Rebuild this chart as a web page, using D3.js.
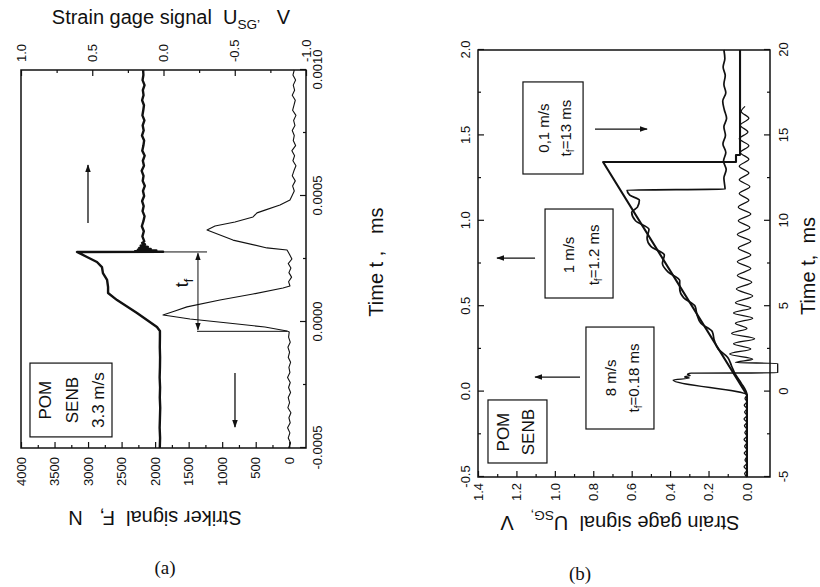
<!DOCTYPE html>
<html><head><meta charset="utf-8">
<script src="https://cdn.jsdelivr.net/npm/d3@7"></script>
<style>
body{margin:0;background:#fff}
svg{display:block;background:#fff}
text{font-family:"Liberation Sans",Arial,sans-serif;fill:#111;white-space:pre}
</style></head><body>
<svg id="fig" width="820" height="587"></svg>
<script>
// ================= DATA : panel (a) =================
const aTimeTicks = [-0.0005, 0, 0.0005, 0.001];
const aTimeTickLabels = ["-0.0005", "0.0000", "0.0005", "0.0010"];
const aTimeMinor = [-0.00025, 0.00025, 0.00075];
const aForceTicks = [0, 500, 1000, 1500, 2000, 2500, 3000, 3500, 4000];
const aForceTickLabels = ["0", "500", "1000", "1500", "2000", "2500", "3000", "3500", "4000"];
const aForceMinor = [250, 750, 1250, 1750, 2250, 2750, 3250, 3750];
const aGageTicks = [-1, -0.5, 0, 0.5, 1];
const aGageTickLabels = ["-1.0", "-0.5", "0.0", "0.5", "1.0"];
const aGageMinor = [-0.75, -0.25, 0.25, 0.75];

// striker signal F (N) – thin curve
const aStrikerTime = [-0.0005,-0.00048,-0.00046,-0.00044,-0.00042,-0.0004,-0.00038,-0.00036,-0.00034,-0.00032,-0.0003,-0.00028,-0.00026,-0.00024,-0.00022,-0.0002,-0.00018,-0.00016,-0.00014,-0.00012,-0.0001,-0.00008,-0.00006,-0.00004,
  -0.000036,-0.00002,-0.000004,0.000012,0.000024,0.000028,0.000044,0.00006,0.000087,0.000111,0.000135,0.000143,
  0.00016,0.000178,0.000196,0.000214,0.000232,0.00025,0.000268,0.00028,
  0.000286,0.000294,0.000325,0.000365,0.000381,0.000397,0.000417,0.000433,0.000444,0.000464,0.000484,
  0.0005,0.00052,0.00054,0.00056,0.00058,0.0006,0.00062,0.00064,0.00066,0.00068,0.0007,0.00072,0.00074,0.00076,0.00078,0.0008,0.00082,0.00084,0.00086,0.00088,0.0009,0.00092,0.00094,0.00096,0.00098,0.001];
const aStrikerForce = [10,-20,15,-10,25,-15,5,-25,20,-5,15,-20,10,-15,25,-10,5,-20,15,-5,20,-15,10,0,
  33,362,913,1480,1778,1883,1704,1525,1033,540,93,-11,
  10,-35,5,-25,15,-40,-5,20,
  33,332,839,1226,1107,809,540,481,362,138,-11,
  -40,-75,-50,-90,-45,-70,-100,-55,-80,-40,-95,-60,-75,-45,-85,-65,-100,-50,-70,-90,-45,-80,-60,-95,-55,-75];

// strain gage signal U_SG (V) – thick curve
const aGageTime = [-0.0005,-0.00046,-0.00042,-0.00038,-0.00034,-0.0003,-0.00026,-0.00022,-0.00018,-0.00014,-0.0001,-0.00006,
  -0.000036,-0.00002,0.000036,0.000087,0.000115,0.000139,0.000167,0.000194,0.000218,0.000238,0.000258,0.000278,
  0.000279,0.000281,0.000284,0.000287,0.00029,0.000294,0.000298,0.000303,0.000308,0.000314,
  0.00032,0.00034,0.00036,0.00038,0.0004,0.00042,0.00044,0.00046,0.00048,0.0005,0.00052,0.00054,0.00056,0.00058,0.0006,0.00062,0.00064,0.00066,0.00068,0.0007,0.00072,0.00074,0.00076,0.00078,0.0008,0.00082,0.00084,0.00086,0.00088,0.0009,0.00092,0.00094,0.00096,0.00098,0.001];
const aGageVolt = [0.026,0.024,0.027,0.025,0.023,0.026,0.024,0.027,0.025,0.024,0.026,0.025,
  0.025,0.046,0.186,0.326,0.389,0.389,0.396,0.425,0.432,0.467,0.537,0.607,
  0.003,0.20,0.05,0.18,0.09,0.17,0.11,0.16,0.13,0.15,
  0.135,0.148,0.138,0.152,0.141,0.133,0.147,0.139,0.150,0.136,0.144,0.131,0.146,0.140,0.153,0.137,0.145,0.132,0.149,0.141,0.136,0.151,0.139,0.146,0.134,0.148,0.142,0.137,0.150,0.140,0.145,0.133,0.147,0.141,0.143];

// ================= DATA : panel (b) =================
const bTimeTicks = [-5, 0, 5, 10, 15, 20];
const bTimeTickLabels = ["-5", "0", "5", "10", "15", "20"];
const bTimeMinor = [-2.5, 2.5, 7.5, 12.5, 17.5];
const bTopTicks = [-0.5, 0, 0.5, 1, 1.5, 2];
const bTopTickLabels = ["-0.5", "0.0", "0.5", "1.0", "1.5", "2.0"];
const bTopMinor = [-0.25, 0.25, 0.75, 1.25, 1.75];
const bGageTicks = [0, 0.2, 0.4, 0.6, 0.8, 1.0, 1.2, 1.4];
const bGageTickLabels = ["0.0", "0.2", "0.4", "0.6", "0.8", "1.0", "1.2", "1.4"];
const bGageMinor = [0.1, 0.3, 0.5, 0.7, 0.9, 1.1, 1.3];

// 0.1 m/s  (bottom time axis, ms)
const b01Time = [-5, -0.2, 13.44, 13.44, 13.85, 13.86, 20];
const b01Volt = [0, 0, 0.749, 0.057, 0.057, 0.036, 0.036];
// 1 m/s  (top time axis, ms)
const b1Time = [-0.5,-0.3,-0.1,-0.02,0.05,0.10,0.15,0.20,0.25,0.30,0.35,0.40,0.45,0.50,0.55,0.60,0.65,0.70,0.75,0.80,0.85,0.90,0.95,1.00,1.05,1.08,1.12,1.15,1.18,
  1.185,1.25,1.30,1.35,1.40,1.45,1.50,1.55,1.60,1.65,1.70,1.75,1.80,1.85,1.90,1.95,2.0];
const b1Volt = [0,0,0,0,0.03,0.06,0.08,0.10,0.15,0.17,0.18,0.24,0.26,0.27,0.33,0.35,0.35,0.41,0.44,0.43,0.50,0.52,0.51,0.58,0.60,0.57,0.56,0.61,0.624,
  0.114,0.12,0.108,0.122,0.11,0.125,0.112,0.12,0.106,0.118,0.126,0.11,0.12,0.113,0.124,0.115,0.12];
// 8 m/s  (top time axis, ms)
const b8Time = [-0.5,-0.48,-0.46,-0.44,-0.42,-0.4,-0.38,-0.36,-0.34,-0.32,-0.3,-0.28,-0.26,-0.24,-0.22,-0.2,-0.18,-0.16,-0.14,-0.12,-0.1,-0.08,-0.06,-0.04,
  -0.02,0.068,0.079,0.086,0.094,0.102,0.108,0.110,0.165,0.17,
  0.19,0.22,0.25,0.28,0.31,0.34,0.37,0.40,0.43,0.46,0.49,0.52,0.56,0.60,0.64,0.68,0.72,0.76,0.80,0.84,0.88,0.92,0.96,1.00,1.04,1.08,1.12,1.16,1.20,1.24,1.28,1.32,1.36,1.40,1.44,1.48,1.52,1.56,1.60,1.64,1.67];
const b8Volt = [0,0.012,0,0.015,0,0.01,0,0.014,0,0.012,0,0.015,0,0.011,0,0.013,0,0.015,0,0.012,0,0.014,0,0.01,
  0,0.385,0.30,0.325,0.295,0.31,0.29,-0.16,-0.16,0.06,
  -0.03,0.09,-0.02,0.07,-0.04,0.08,0.0,0.06,-0.03,0.07,-0.02,0.06,-0.03,0.055,-0.025,0.05,-0.02,0.05,-0.02,0.045,-0.02,0.05,-0.015,0.045,-0.02,0.045,-0.01,0.04,-0.015,0.04,-0.01,0.04,-0.01,0.035,-0.01,0.04,-0.005,0.035,-0.01,0.03,0.01];

// ================= LAYOUT =================
const ink = "#111";
const svg = d3.select("#fig");
const defs = svg.append("defs");
defs.append("marker").attr("id","ah").attr("viewBox","0 0 10 10")
  .attr("refX",9).attr("refY",5).attr("markerWidth",8).attr("markerHeight",8)
  .attr("markerUnits","userSpaceOnUse").attr("orient","auto-start-reverse")
  .append("path").attr("d","M0,1.5 L10,5 L0,8.5 Z").attr("fill",ink);

function styleAxis(g, fs){
  g.attr("font-size", null).attr("font-family", null);
  g.select(".domain").remove();
  g.selectAll("line").attr("stroke", ink).attr("stroke-width", 1.2);
  g.selectAll("text").style("font-size", fs + "px").attr("fill", ink);
}
function addText(parent, x, y, parts, fs, rot){
  const t = parent.append("text").attr("x", x).attr("y", y)
    .attr("text-anchor","middle").attr("dominant-baseline","central")
    .attr("xml:space","preserve")
    .style("font-size", fs + "px");
  if (rot) t.attr("transform", `rotate(${rot},${x},${y})`);
  parts.forEach(p => {
    const s = t.append("tspan").text(p.t);
    if (p.sub) s.attr("baseline-shift","sub").style("font-size", (fs*0.68) + "px");
  });
  return t;
}
const TF = 13;

// ---------- panel (a) ----------
const A = {left:21, top:70, right:306, bottom:448};
const aW = A.bottom - A.top, aH = A.right - A.left;
const gA = svg.append("g").attr("transform", `translate(${A.left},${A.bottom}) rotate(-90)`);
const axT = d3.scaleLinear().domain([-0.0005, 0.001]).range([0, aW]);
const ayF = d3.scaleLinear().domain([-250, 4000]).range([aH, 0]);
const ayU = d3.scaleLinear().domain([-1, 1]).range([aH, 0]);

gA.append("g").attr("transform",`translate(0,${aH})`)
  .call(d3.axisBottom(axT).tickValues(aTimeTicks).tickFormat((d,i)=>aTimeTickLabels[i]).tickSizeInner(-6).tickSizeOuter(0).tickPadding(7))
  .call(g=>styleAxis(g,TF));
gA.append("g").attr("transform",`translate(0,${aH})`)
  .call(d3.axisBottom(axT).tickValues(aTimeMinor).tickFormat("").tickSizeInner(-3).tickSizeOuter(0))
  .call(g=>styleAxis(g,TF));
gA.append("g")
  .call(d3.axisLeft(ayF).tickValues(aForceTicks).tickFormat((d,i)=>aForceTickLabels[i]).tickSizeInner(-6).tickSizeOuter(0).tickPadding(9))
  .call(g=>styleAxis(g,TF));
gA.append("g")
  .call(d3.axisLeft(ayF).tickValues(aForceMinor).tickFormat("").tickSizeInner(-3).tickSizeOuter(0))
  .call(g=>styleAxis(g,TF));
gA.append("g").attr("transform",`translate(${aW},0)`)
  .call(d3.axisRight(ayU).tickValues(aGageTicks).tickFormat((d,i)=>aGageTickLabels[i]).tickSizeInner(-6).tickSizeOuter(0).tickPadding(8))
  .call(g=>styleAxis(g,TF));
gA.append("g").attr("transform",`translate(${aW},0)`)
  .call(d3.axisRight(ayU).tickValues(aGageMinor).tickFormat("").tickSizeInner(-3).tickSizeOuter(0))
  .call(g=>styleAxis(g,TF));
gA.append("rect").attr("width",aW).attr("height",aH).attr("fill","none").attr("stroke",ink).attr("stroke-width",1.5);

const lineAF = d3.line().x((d,i)=>axT(aStrikerTime[i])).y((d,i)=>ayF(aStrikerForce[i]));
gA.append("path").attr("d", lineAF(aStrikerTime)).attr("fill","none").attr("stroke",ink).attr("stroke-width",1.1).attr("stroke-linejoin","round");
const lineAU = d3.line().x((d,i)=>axT(aGageTime[i])).y((d,i)=>ayU(aGageVolt[i]));
gA.append("path").attr("d", lineAU(aGageTime)).attr("fill","none").attr("stroke",ink).attr("stroke-width",2.4).attr("stroke-linejoin","round");

// t_f marker
function segA(t1,f1,t2,f2,w,arrows){
  const l = gA.append("line").attr("x1",axT(t1)).attr("y1",ayF(f1)).attr("x2",axT(t2)).attr("y2",ayF(f2))
    .attr("stroke",ink).attr("stroke-width",w);
  if (arrows) { l.attr("marker-end","url(#ah)"); if (arrows===2) l.attr("marker-start","url(#ah)"); }
}
segA(0.000278,1883,0.000278,1226,1);
segA(-0.000037,33,-0.000037,1375,1);
segA(-0.000031,1361,0.000273,1361,1,2);
addText(gA, axT(0.000155), ayF(1600), [{t:"t"},{t:"f",sub:true}], 18);
segA(0.000393,3001,0.000623,3001,1.3,1);
segA(-0.000202,809,-0.000417,809,1.3,1);
gA.append("rect").attr("x",axT(-0.000456)).attr("y",ayF(3866))
  .attr("width",axT(-0.000163)-axT(-0.000456)).attr("height",ayF(2643)-ayF(3866))
  .attr("fill","none").attr("stroke",ink).attr("stroke-width",1.2);
[["POM",3642],["SENB",3240],["3.3 m/s",2852]].forEach(([s,f])=>addText(gA, axT(-0.00031), ayF(f), [{t:s}], 17));

// panel (a) titles & caption (screen coords)
addText(svg, 171, 17, [{t:"Strain gage signal  U"},{t:"SG’",sub:true},{t:"   V"}], 20);
addText(svg, 155, 518, [{t:"Striker signal  F,   N"}], 20, 180);
addText(svg, 376, 262, [{t:"Time t ,   ms"}], 20, -90);
addText(svg, 165, 567, [{t:"(a)"}], 19).style("font-family","'Liberation Serif',serif");

// ---------- panel (b) ----------
const B = {left:478, top:50, right:770, bottom:477};
const bW = B.bottom - B.top, bH = B.right - B.left;
const gB = svg.append("g").attr("transform", `translate(${B.left},${B.bottom}) rotate(-90)`);
const bxT = d3.scaleLinear().domain([-5, 20]).range([0, bW]);
const bxTop = d3.scaleLinear().domain([-0.5, 2.0]).range([0, bW]);
const byU = d3.scaleLinear().domain([-0.12, 1.4]).range([bH, 0]);

gB.append("g").attr("transform",`translate(0,${bH})`)
  .call(d3.axisBottom(bxT).tickValues(bTimeTicks).tickFormat((d,i)=>bTimeTickLabels[i]).tickSizeInner(-6).tickSizeOuter(0).tickPadding(9))
  .call(g=>styleAxis(g,TF));
gB.append("g").attr("transform",`translate(0,${bH})`)
  .call(d3.axisBottom(bxT).tickValues(bTimeMinor).tickFormat("").tickSizeInner(-3).tickSizeOuter(0))
  .call(g=>styleAxis(g,TF));
gB.append("g")
  .call(d3.axisTop(bxTop).tickValues(bTopTicks).tickFormat((d,i)=>bTopTickLabels[i]).tickSizeInner(-6).tickSizeOuter(0).tickPadding(8))
  .call(g=>styleAxis(g,TF));
gB.append("g")
  .call(d3.axisTop(bxTop).tickValues(bTopMinor).tickFormat("").tickSizeInner(-3).tickSizeOuter(0))
  .call(g=>styleAxis(g,TF));
gB.append("g")
  .call(d3.axisLeft(byU).tickValues(bGageTicks).tickFormat((d,i)=>bGageTickLabels[i]).tickSizeInner(-6).tickSizeOuter(0).tickPadding(6))
  .call(g=>styleAxis(g,TF));
gB.append("g")
  .call(d3.axisLeft(byU).tickValues(bGageMinor).tickFormat("").tickSizeInner(-3).tickSizeOuter(0))
  .call(g=>styleAxis(g,TF));
gB.append("rect").attr("width",bW).attr("height",bH).attr("fill","none").attr("stroke",ink).attr("stroke-width",1.5);

const line01 = d3.line().x((d,i)=>bxT(b01Time[i])).y((d,i)=>byU(b01Volt[i]));
gB.append("path").attr("d", line01(b01Time)).attr("fill","none").attr("stroke",ink).attr("stroke-width",2.1).attr("stroke-linejoin","round");
const line1 = d3.line().curve(d3.curveMonotoneX).x((d,i)=>bxTop(b1Time[i])).y((d,i)=>byU(b1Volt[i]));
gB.append("path").attr("d", line1(b1Time)).attr("fill","none").attr("stroke",ink).attr("stroke-width",1.7).attr("stroke-linejoin","round");
const line8 = d3.line().curve(d3.curveMonotoneX).x((d,i)=>bxTop(b8Time[i])).y((d,i)=>byU(b8Volt[i]));
gB.append("path").attr("d", line8(b8Time)).attr("fill","none").attr("stroke",ink).attr("stroke-width",1.3).attr("stroke-linejoin","round");

function boxB(t0,t1,u0,u1){
  gB.append("rect").attr("x",bxT(t0)).attr("y",byU(u1)).attr("width",bxT(t1)-bxT(t0)).attr("height",byU(u0)-byU(u1))
    .attr("fill","#fff").attr("stroke",ink).attr("stroke-width",1.2);
}
function arrowB(t,u1,u2){
  gB.append("line").attr("x1",bxT(t)).attr("y1",byU(u1)).attr("x2",bxT(t)).attr("y2",byU(u2))
    .attr("stroke",ink).attr("stroke-width",1.2).attr("marker-end","url(#ah)");
}
const BF = 15;
boxB(-4.18,-0.49,1.041,1.348);
addText(gB, bxT(-2.37), byU(1.270), [{t:"POM"}], 17);
addText(gB, bxT(-2.37), byU(1.140), [{t:"SENB"}], 17);
boxB(-2.19,3.78,0.484,0.838);
addText(gB, bxT(0.80), byU(0.713), [{t:"8 m/s"}], BF);
addText(gB, bxT(0.80), byU(0.593), [{t:"t"},{t:"f",sub:true},{t:"=0.18 ms"}], BF);
arrowB(0.85,0.869,1.103);
boxB(5.48,10.69,0.697,1.051);
addText(gB, bxT(8.0), byU(0.931), [{t:"1 m/s"}], BF);
addText(gB, bxT(8.0), byU(0.801), [{t:"t"},{t:"f",sub:true},{t:"=1.2 ms"}], BF);
arrowB(7.82,1.103,1.301);
boxB(12.74,18.13,0.853,1.166);
addText(gB, bxT(15.43), byU(1.062), [{t:"0,1 m/s"}], BF);
addText(gB, bxT(15.43), byU(0.947), [{t:"t"},{t:"f",sub:true},{t:"=13 ms"}], BF);
arrowB(15.37,0.791,0.520);

// panel (b) titles & caption
addText(svg, 620, 523, [{t:"Strain gage signal  U"},{t:"SG,",sub:true},{t:"   V"}], 20, 180);
addText(svg, 808, 266, [{t:"Time t,  ms"}], 20, -90);
addText(svg, 580, 573, [{t:"(b)"}], 19).style("font-family","'Liberation Serif',serif");
</script>
</body></html>
